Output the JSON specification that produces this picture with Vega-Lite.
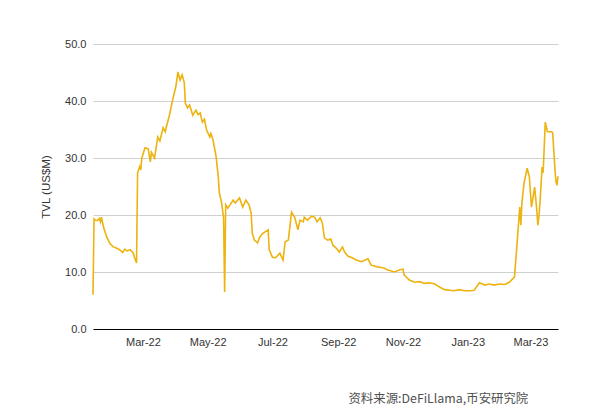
{
  "$schema": "https://vega.github.io/schema/vega-lite/v6.json",
  "autosize": "none",
  "width": 465,
  "height": 285,
  "padding": {"left": 93, "top": 44, "right": 42, "bottom": 83},
  "background": "white",
  "config": {"view": {"stroke": null}, "font": "Liberation Sans"},
  "title": {
    "text": "资料来源:DeFiLlama,币安研究院",
    "orient": "bottom",
    "anchor": "end",
    "dx": -33,
    "offset": 46,
    "font": "Noto Sans CJK SC",
    "fontSize": 12.4,
    "fontWeight": "normal",
    "color": "#505050"
  },
  "data": {
    "values": [
      {"date": "2022-01-13", "tvl": 6.0},
      {"date": "2022-01-14", "tvl": 19.3},
      {"date": "2022-01-15", "tvl": 19.1},
      {"date": "2022-01-17", "tvl": 19.0},
      {"date": "2022-01-19", "tvl": 19.4},
      {"date": "2022-01-20", "tvl": 18.8},
      {"date": "2022-01-21", "tvl": 19.6},
      {"date": "2022-01-23", "tvl": 17.8},
      {"date": "2022-01-26", "tvl": 16.1},
      {"date": "2022-01-29", "tvl": 15.0},
      {"date": "2022-02-01", "tvl": 14.4},
      {"date": "2022-02-04", "tvl": 14.2},
      {"date": "2022-02-07", "tvl": 13.9},
      {"date": "2022-02-10", "tvl": 13.4},
      {"date": "2022-02-12", "tvl": 14.0},
      {"date": "2022-02-14", "tvl": 13.7},
      {"date": "2022-02-17", "tvl": 13.9},
      {"date": "2022-02-20", "tvl": 13.3},
      {"date": "2022-02-21", "tvl": 12.6},
      {"date": "2022-02-23", "tvl": 11.6},
      {"date": "2022-02-24", "tvl": 27.4},
      {"date": "2022-02-26", "tvl": 28.5},
      {"date": "2022-02-27", "tvl": 27.9},
      {"date": "2022-02-28", "tvl": 30.0},
      {"date": "2022-03-03", "tvl": 31.8},
      {"date": "2022-03-06", "tvl": 31.6},
      {"date": "2022-03-08", "tvl": 29.3},
      {"date": "2022-03-09", "tvl": 31.0},
      {"date": "2022-03-12", "tvl": 30.0},
      {"date": "2022-03-15", "tvl": 33.7},
      {"date": "2022-03-17", "tvl": 33.0},
      {"date": "2022-03-20", "tvl": 35.3},
      {"date": "2022-03-22", "tvl": 34.6},
      {"date": "2022-03-23", "tvl": 35.4},
      {"date": "2022-03-26", "tvl": 37.5},
      {"date": "2022-03-29", "tvl": 40.2},
      {"date": "2022-04-01", "tvl": 42.5},
      {"date": "2022-04-03", "tvl": 45.1},
      {"date": "2022-04-05", "tvl": 43.7},
      {"date": "2022-04-07", "tvl": 44.6},
      {"date": "2022-04-09", "tvl": 43.2},
      {"date": "2022-04-10", "tvl": 39.6},
      {"date": "2022-04-12", "tvl": 38.8},
      {"date": "2022-04-14", "tvl": 39.3},
      {"date": "2022-04-17", "tvl": 37.5},
      {"date": "2022-04-20", "tvl": 38.4},
      {"date": "2022-04-22", "tvl": 37.6},
      {"date": "2022-04-24", "tvl": 37.9},
      {"date": "2022-04-26", "tvl": 36.3},
      {"date": "2022-04-28", "tvl": 36.8},
      {"date": "2022-04-30", "tvl": 34.9},
      {"date": "2022-05-03", "tvl": 33.7},
      {"date": "2022-05-04", "tvl": 34.3},
      {"date": "2022-05-06", "tvl": 33.2},
      {"date": "2022-05-09", "tvl": 30.2},
      {"date": "2022-05-11", "tvl": 26.7},
      {"date": "2022-05-12", "tvl": 23.9},
      {"date": "2022-05-14", "tvl": 22.3},
      {"date": "2022-05-16", "tvl": 19.5},
      {"date": "2022-05-17", "tvl": 6.5},
      {"date": "2022-05-18", "tvl": 21.8},
      {"date": "2022-05-20", "tvl": 21.2},
      {"date": "2022-05-25", "tvl": 22.6},
      {"date": "2022-05-27", "tvl": 22.1},
      {"date": "2022-05-31", "tvl": 23.0},
      {"date": "2022-06-03", "tvl": 21.4},
      {"date": "2022-06-06", "tvl": 22.6},
      {"date": "2022-06-09", "tvl": 21.8},
      {"date": "2022-06-11", "tvl": 20.3},
      {"date": "2022-06-12", "tvl": 16.8},
      {"date": "2022-06-14", "tvl": 15.6},
      {"date": "2022-06-17", "tvl": 15.1},
      {"date": "2022-06-19", "tvl": 16.1},
      {"date": "2022-06-22", "tvl": 16.8},
      {"date": "2022-06-27", "tvl": 17.4},
      {"date": "2022-06-28", "tvl": 13.9},
      {"date": "2022-07-01", "tvl": 12.6},
      {"date": "2022-07-04", "tvl": 12.5},
      {"date": "2022-07-08", "tvl": 13.3},
      {"date": "2022-07-11", "tvl": 12.1},
      {"date": "2022-07-13", "tvl": 15.3},
      {"date": "2022-07-16", "tvl": 15.6},
      {"date": "2022-07-19", "tvl": 20.5},
      {"date": "2022-07-22", "tvl": 19.6},
      {"date": "2022-07-25", "tvl": 17.4},
      {"date": "2022-07-27", "tvl": 19.1},
      {"date": "2022-07-30", "tvl": 18.8},
      {"date": "2022-07-31", "tvl": 19.6},
      {"date": "2022-08-03", "tvl": 19.1},
      {"date": "2022-08-07", "tvl": 19.8},
      {"date": "2022-08-10", "tvl": 19.6},
      {"date": "2022-08-12", "tvl": 18.8},
      {"date": "2022-08-15", "tvl": 19.5},
      {"date": "2022-08-17", "tvl": 18.6},
      {"date": "2022-08-19", "tvl": 16.0},
      {"date": "2022-08-22", "tvl": 15.6},
      {"date": "2022-08-25", "tvl": 15.8},
      {"date": "2022-08-27", "tvl": 14.7},
      {"date": "2022-08-30", "tvl": 14.2},
      {"date": "2022-09-02", "tvl": 13.5},
      {"date": "2022-09-05", "tvl": 14.4},
      {"date": "2022-09-07", "tvl": 13.5},
      {"date": "2022-09-10", "tvl": 12.8},
      {"date": "2022-09-14", "tvl": 12.5},
      {"date": "2022-09-18", "tvl": 12.1},
      {"date": "2022-09-23", "tvl": 11.8},
      {"date": "2022-09-29", "tvl": 12.3},
      {"date": "2022-10-02", "tvl": 11.2},
      {"date": "2022-10-08", "tvl": 10.9},
      {"date": "2022-10-14", "tvl": 10.7},
      {"date": "2022-10-17", "tvl": 10.4},
      {"date": "2022-10-24", "tvl": 10.0},
      {"date": "2022-10-29", "tvl": 10.4},
      {"date": "2022-11-01", "tvl": 10.5},
      {"date": "2022-11-02", "tvl": 9.5},
      {"date": "2022-11-07", "tvl": 8.6},
      {"date": "2022-11-12", "tvl": 8.2},
      {"date": "2022-11-17", "tvl": 8.3},
      {"date": "2022-11-21", "tvl": 8.0},
      {"date": "2022-11-26", "tvl": 8.1},
      {"date": "2022-12-01", "tvl": 7.9},
      {"date": "2022-12-05", "tvl": 7.4},
      {"date": "2022-12-10", "tvl": 6.9},
      {"date": "2022-12-15", "tvl": 6.8},
      {"date": "2022-12-19", "tvl": 6.7},
      {"date": "2022-12-24", "tvl": 6.9},
      {"date": "2022-12-29", "tvl": 6.7},
      {"date": "2023-01-03", "tvl": 6.7},
      {"date": "2023-01-07", "tvl": 6.8},
      {"date": "2023-01-12", "tvl": 8.1},
      {"date": "2023-01-17", "tvl": 7.7},
      {"date": "2023-01-21", "tvl": 7.9},
      {"date": "2023-01-26", "tvl": 7.7},
      {"date": "2023-01-31", "tvl": 7.9},
      {"date": "2023-02-05", "tvl": 7.8},
      {"date": "2023-02-09", "tvl": 8.2},
      {"date": "2023-02-14", "tvl": 9.1},
      {"date": "2023-02-16", "tvl": 13.9},
      {"date": "2023-02-19", "tvl": 21.4},
      {"date": "2023-02-20", "tvl": 18.2},
      {"date": "2023-02-21", "tvl": 22.1},
      {"date": "2023-02-23", "tvl": 25.6},
      {"date": "2023-02-26", "tvl": 28.2},
      {"date": "2023-02-28", "tvl": 26.7},
      {"date": "2023-03-02", "tvl": 21.4},
      {"date": "2023-03-05", "tvl": 24.9},
      {"date": "2023-03-07", "tvl": 20.9},
      {"date": "2023-03-08", "tvl": 18.2},
      {"date": "2023-03-09", "tvl": 19.6},
      {"date": "2023-03-10", "tvl": 22.1},
      {"date": "2023-03-12", "tvl": 28.4},
      {"date": "2023-03-13", "tvl": 27.4},
      {"date": "2023-03-14", "tvl": 31.9},
      {"date": "2023-03-15", "tvl": 36.3},
      {"date": "2023-03-17", "tvl": 34.6},
      {"date": "2023-03-21", "tvl": 34.6},
      {"date": "2023-03-22", "tvl": 34.4},
      {"date": "2023-03-24", "tvl": 28.4},
      {"date": "2023-03-25", "tvl": 26.0},
      {"date": "2023-03-26", "tvl": 25.2},
      {"date": "2023-03-27", "tvl": 26.8}
    ]
  },
  "mark": {"type": "line", "color": "#EDB30F", "strokeWidth": 1.6, "interpolate": "linear"},
  "encoding": {
    "x": {
      "field": "date",
      "type": "temporal",
      "scale": {
        "type": "utc",
        "domain": [
          {"year": 2022, "month": 1, "date": 13, "utc": true},
          {"year": 2023, "month": 3, "date": 27, "utc": true}
        ]
      },
      "axis": {
        "title": null,
        "format": "%b-%y",
        "tickCount": {"interval": "month", "step": 2},
        "grid": false,
        "ticks": false,
        "domainColor": "#000000",
        "domainWidth": 1,
        "labelFontSize": 11,
        "labelColor": "#333333",
        "labelPadding": 7,
        "labelFont": "Liberation Sans"
      }
    },
    "y": {
      "field": "tvl",
      "type": "quantitative",
      "scale": {"domain": [0, 50], "nice": false},
      "axis": {
        "title": "TVL (US$M)",
        "values": [0, 10, 20, 30, 40, 50],
        "format": ".1f",
        "domain": false,
        "ticks": false,
        "gridColor": "#d0d0d0",
        "gridWidth": 1,
        "labelFontSize": 11,
        "labelColor": "#333333",
        "labelPadding": 7,
        "labelFont": "Liberation Sans",
        "titleFont": "Liberation Sans",
        "titleFontSize": 11.5,
        "titleFontWeight": "normal",
        "titleColor": "#333333",
        "titlePadding": 13
      }
    }
  }
}
